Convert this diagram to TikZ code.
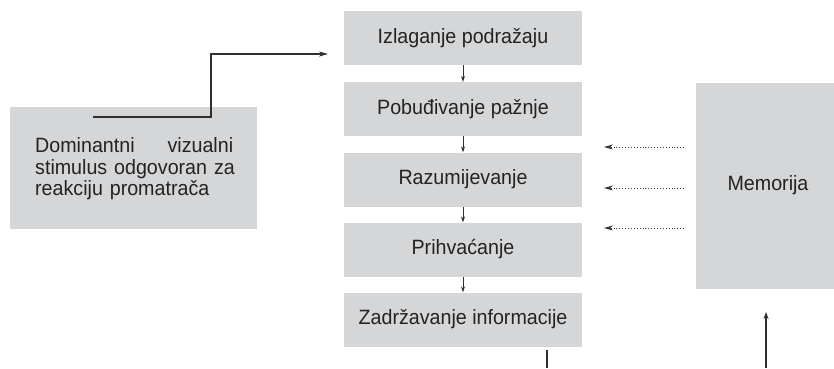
\documentclass[tikz,border=0pt]{standalone}
\usepackage{fontspec}
\setmainfont{Liberation Sans}[FakeStretch=0.95]
\usetikzlibrary{arrows.meta}
\definecolor{boxgray}{HTML}{D5D6D8}
\definecolor{ink}{HTML}{232323}
\definecolor{linec}{HTML}{303030}
\begin{document}
\begin{tikzpicture}[x=1pt,y=-1pt,
  every node/.style={text=ink,font=\fontsize{20.7}{21.4}\selectfont},
  stagebox/.style={fill=boxgray,draw=none,minimum width=238pt,minimum height=54pt,inner sep=0pt},
  smallarrow/.style={draw=linec,line width=0.9pt,-{Stealth[length=6pt,width=4pt]}},
  dotarrow/.style={draw=linec,line width=0.9pt,dotted,-{Stealth[length=9pt,width=5pt]}},
  mainline/.style={draw=linec,line width=1.5pt},
]
\useasboundingbox (0,0) rectangle (834,368);
% left box
\node[fill=boxgray,minimum width=247pt,minimum height=122pt,inner sep=0pt] (stim) at (133.5,168) {};
\node[text width=205pt,align=left,inner sep=0pt,anchor=west] (stimtxt) at (35,169)
  {\hbox to 198pt{Dominantni\hfill vizualni}\\stimulus odgovoran za\\reakciju promatrača};
% stages
\node[stagebox] (s1) at (463,38) {Izlaganje podražaju};
\node[stagebox] (s2) at (463,109) {Pobuđivanje pažnje};
\node[stagebox] (s3) at (463,179.5) {Razumijevanje};
\node[stagebox] (s4) at (463,249.5) {Prihvaćanje};
\node[stagebox] (s5) at (463,319.5) {Zadržavanje informacije};
% memory
\node[fill=boxgray,minimum width=138pt,minimum height=206pt,inner sep=0pt] (mem) at (765,186) {};
\node[inner sep=0pt] (memtxt) at (768,185) {Memorija};
% arrows between stages
\draw[smallarrow] (s1.south) -- (s2.north);
\draw[smallarrow] (s2.south) -- (s3.north);
\draw[smallarrow] (s3.south) -- (s4.north);
\draw[smallarrow] (s4.south) -- (s5.north);
% elbow line
\coordinate (e0) at (93,117);
\coordinate (e1) at (328,54);
\draw[mainline,-{Stealth[length=9pt,width=5pt]}] (e0) -| (211,54) -- (e1);
% dotted arrows
\coordinate (d1a) at (684,147); \coordinate (d1b) at (604,147);
\coordinate (d2a) at (684,188); \coordinate (d2b) at (604,188);
\coordinate (d3a) at (684,228); \coordinate (d3b) at (604,228);
\draw[dotarrow] (d1a) -- (d1b);
\draw[dotarrow] (d2a) -- (d2b);
\draw[dotarrow] (d3a) -- (d3b);
% bottom lines
\coordinate (b1) at (547,350); \coordinate (b2) at (547,368);
\draw[draw=linec,line width=1.2pt] (b1) -- (b2);
\coordinate (m1) at (766,368); \coordinate (m2) at (766,312);
\draw[draw=linec,line width=1.2pt,-{Stealth[length=7pt,width=5pt]}] (m1) -- (m2);
\end{tikzpicture}
\end{document}
